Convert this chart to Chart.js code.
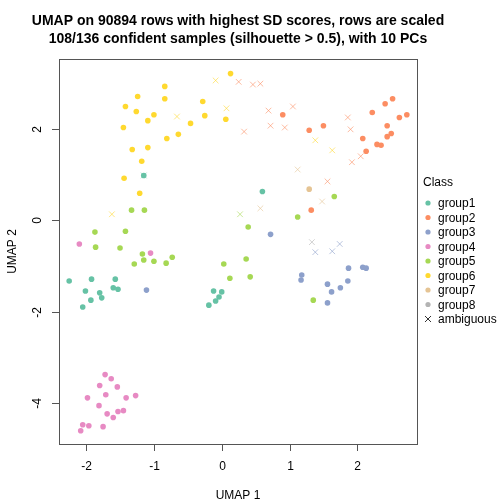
<!DOCTYPE html>
<html><head><meta charset="utf-8">
<script src="https://cdn.jsdelivr.net/npm/chart.js@4"></script>
<style>html,body{margin:0;padding:0;background:#fff}#w{width:504px;height:504px}</style>
</head><body><div id="w"><canvas id="c" width="504" height="504"></canvas></div>
<script>
const groups=["group1","group2","group3","group4","group5","group6","group7","group8"];
const colors=["#66C2A5","#FC8D62","#8DA0CB","#E78AC3","#A6D854","#FFD92F","#E5C494","#B3B3B3"];
const xTicks=[-2,-1,0,1,2];
const yTicks=[-4,-2,0,2];
const g1=[[-1.15,0.98],[0.60,0.63],[-2.25,-1.33],[-1.92,-1.29],[-1.57,-1.29],[-2.01,-1.55],[-1.80,-1.59],[-1.60,-1.48],[-1.53,-1.51],[-1.77,-1.70],[-1.93,-1.75],[-2.05,-1.90],[-0.12,-1.55],[0.00,-1.57],[-0.04,-1.68],[-0.09,-1.77],[-0.19,-1.86]];
const g2=[[0.90,2.31],[1.29,1.97],[1.50,2.07],[2.52,2.66],[2.41,2.55],[2.22,2.36],[2.73,2.31],[2.62,2.25],[2.44,2.07],[2.50,1.90],[2.44,1.83],[2.08,1.79],[2.29,1.66],[2.35,1.64],[2.13,1.51],[1.32,0.22]];
const g3=[[0.72,-0.31],[-1.11,-1.53],[1.18,-1.20],[1.17,-1.31],[1.56,-1.40],[1.62,-1.57],[1.75,-1.48],[1.86,-1.33],[1.87,-1.05],[2.08,-1.03],[2.13,-1.05],[1.56,-1.81]];
const g4=[[-2.10,-0.52],[-1.05,-0.72],[-1.72,-3.38],[-1.63,-3.47],[-1.80,-3.62],[-1.54,-3.65],[-1.71,-3.82],[-1.98,-3.89],[-1.41,-3.89],[-1.27,-3.84],[-1.81,-4.06],[-1.69,-4.24],[-1.53,-4.19],[-1.45,-4.17],[-1.60,-4.32],[-2.05,-4.48],[-1.96,-4.50],[-1.75,-4.52],[-2.08,-4.61]];
const g5=[[-1.33,0.22],[-1.14,0.22],[-1.87,-0.26],[-1.42,-0.24],[-1.86,-0.59],[-1.50,-0.61],[-1.17,-0.74],[-1.29,-0.96],[-1.15,-0.87],[-1.00,-0.90],[-0.82,-0.94],[-0.73,-0.81],[0.39,-0.15],[0.03,-0.96],[0.36,-0.85],[0.12,-1.27],[0.42,-1.24],[1.35,-1.75],[1.66,0.52],[1.12,0.07]];
const g6=[[0.13,3.21],[-0.84,2.93],[-1.24,2.71],[-0.84,2.66],[-0.28,2.60],[-1.42,2.49],[-1.26,2.38],[-1.00,2.31],[-0.25,2.29],[0.06,2.21],[-1.09,2.18],[-0.46,2.12],[-1.45,2.03],[-0.64,1.88],[-0.81,1.79],[-1.32,1.55],[-1.09,1.59],[-1.18,1.29],[-1.44,0.92],[-1.21,0.59]];
const g7=[[1.29,0.68]];
const g8=[];
const amb1=[[-1.15,0.98]];
const amb2=[[0.25,3.03],[0.46,2.97],[0.57,2.99],[0.69,2.40],[1.05,2.49],[0.72,2.07],[0.93,2.03],[0.33,1.94],[1.86,2.25],[1.90,1.99],[2.05,1.40],[1.92,1.27],[1.56,0.85]];
const amb3=[[1.38,-0.70],[1.63,-0.68],[1.74,-0.52]];
const amb5=[[0.27,0.13]];
const amb6=[[-0.09,3.06],[-0.66,2.27],[0.07,2.45],[-1.62,0.13],[1.38,1.75],[1.63,1.53]];
const amb7=[[1.12,1.11],[1.48,0.41],[0.57,0.26]];
const amb8=[[1.33,-0.48]];
const pts=[g1,g2,g3,g4,g5,g6,g7,g8];
const ambs=[amb1,amb2,amb3,null,amb5,amb6,amb7,amb8];
function hexA(h,a){const n=parseInt(h.slice(1),16);return `rgba(${n>>16},${(n>>8)&255},${n&255},${a})`;}
const ds=[];
ambs.forEach((a,i)=>{if(a)ds.push({data:a.map(p=>({x:p[0],y:p[1]})),pointStyle:'crossRot',radius:4,borderWidth:1,borderColor:hexA(colors[i],0.6),backgroundColor:hexA(colors[i],0.6)});});
pts.forEach((a,i)=>ds.push({data:a.map(p=>({x:p[0],y:p[1]})),pointStyle:'circle',radius:2.8,borderWidth:0,backgroundColor:colors[i],borderColor:colors[i]}));
const deco={id:'deco',afterDraw(ch){const c=ch.ctx,a=ch.chartArea,xs=ch.scales.x,ys=ch.scales.y;c.save();
c.strokeStyle='#555';c.lineWidth=1;c.strokeRect(a.left+0.5,a.top+0.5,a.right-a.left,a.bottom-a.top);
c.fillStyle='#000';c.font='12px "Liberation Sans"';c.textAlign='center';c.textBaseline='middle';
xTicks.forEach(t=>{const x=Math.round(xs.getPixelForValue(t))+0.5;c.beginPath();c.moveTo(x,a.bottom);c.lineTo(x,a.bottom+7);c.stroke();c.fillText(String(t),x,a.bottom+23);});
yTicks.forEach(t=>{const y=Math.round(ys.getPixelForValue(t))+0.5;c.beginPath();c.moveTo(a.left,y);c.lineTo(a.left-7,y);c.stroke();c.save();c.translate(a.left-21,y);c.rotate(-Math.PI/2);c.fillText(String(t),0,0);c.restore();});
c.fillText('UMAP 1',(a.left+a.right)/2,a.bottom+52);
c.save();c.translate(13,(a.top+a.bottom)/2);c.rotate(-Math.PI/2);c.fillText('UMAP 2',0,0);c.restore();
c.font='bold 14px "Liberation Sans"';c.fillText('UMAP on 90894 rows with highest SD scores, rows are scaled',(a.left+a.right)/2,21);
c.fillText('108/136 confident samples (silhouette > 0.5), with 10 PCs',(a.left+a.right)/2,39);
c.font='12px "Liberation Sans"';c.textAlign='left';c.fillText('Class',423,183);
groups.forEach((g,i)=>{const y=203+i*14.5;c.fillStyle=colors[i];c.beginPath();c.arc(428,y,2.6,0,2*Math.PI);c.fill();c.fillStyle='#000';c.fillText(g,438,y+1);});
const yA=203+8*14.5;c.strokeStyle='#333';c.beginPath();c.moveTo(425,yA-3);c.lineTo(431,yA+3);c.moveTo(431,yA-3);c.lineTo(425,yA+3);c.stroke();c.fillText('ambiguous',438,yA+1);
c.restore();}};
new Chart(document.getElementById('c'),{type:'scatter',data:{datasets:ds},plugins:[deco],
options:{responsive:false,animation:false,layout:{padding:{left:59,top:59,right:87,bottom:60}},
plugins:{legend:{display:false},tooltip:{enabled:false}},
scales:{x:{type:'linear',display:false,min:-2.40,max:2.88},y:{type:'linear',display:false,min:-4.90,max:3.53}}}});
</script></body></html>
